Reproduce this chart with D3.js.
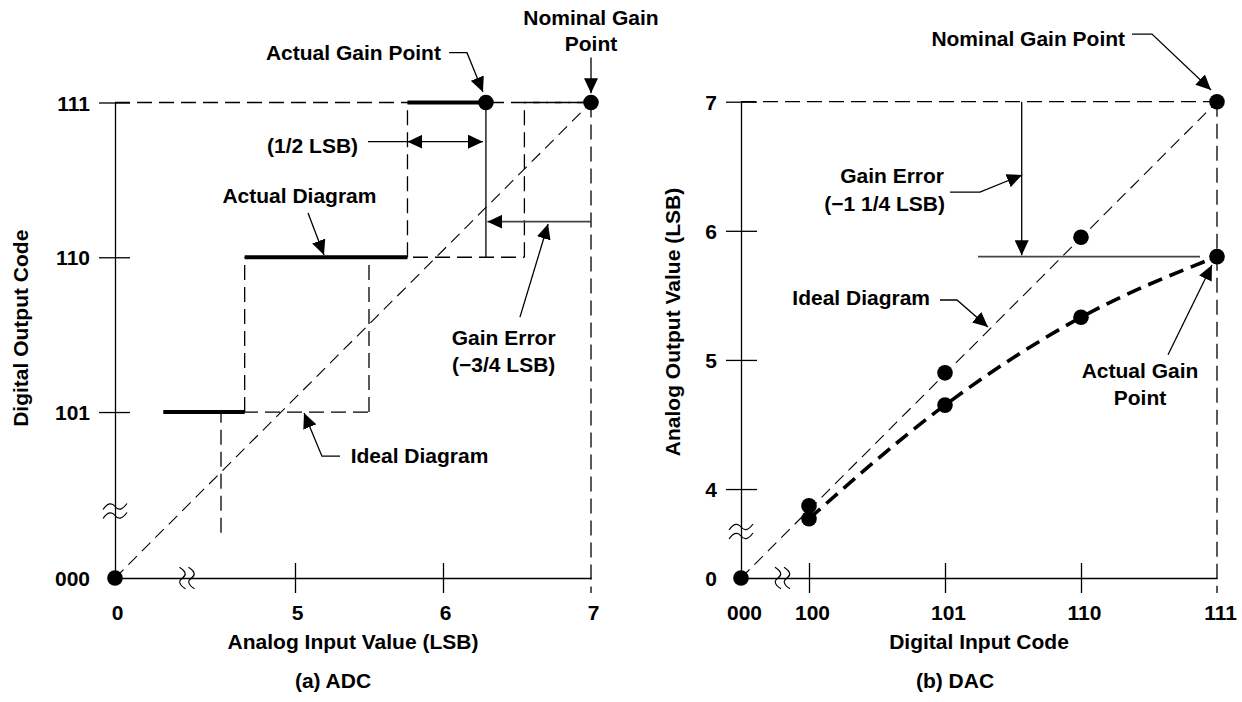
<!DOCTYPE html>
<html><head><meta charset="utf-8">
<script src="https://cdn.jsdelivr.net/npm/d3@7"></script>
<style>
body{margin:0;background:#fff}
svg{display:block}
text{font-family:"Liberation Sans",Arial,Helvetica,sans-serif;font-weight:bold;font-size:21px;fill:#000}
.axis path,.axis line{stroke:#000;stroke-width:1.3}
.grid{stroke:#000;stroke-width:1.3;stroke-dasharray:15 7;fill:none}
.diag{stroke:#000;stroke-width:1.1;stroke-dasharray:12 7;fill:none}
.thick{stroke:#000;stroke-width:4;fill:none}
.thickdash{stroke:#000;stroke-width:3.6;stroke-dasharray:15 8;fill:none}
.thin{stroke:#000;stroke-width:1.3;fill:none}
.gray{stroke:#444;stroke-width:1.6;fill:none}
.brk{stroke:#000;stroke-width:1.2;fill:none}
</style>
</head><body>
<svg id="c" width="1242" height="702"></svg>
<script>
// ---------- (a) ADC data ----------
const adcYCodes = ["000","101","110","111"];
const adcYValues = [0,5,6,7];
const adcXTicks = [0,5,6,7];
const adcActualCode = [5,6,7];
const adcActualStart = [4.11,4.66,5.76];
const adcActualEnd = [4.66,5.76,6.29];
const adcIdealCode = [5,6,7];
const adcIdealStart = [4.5,5.5,6.55];
const adcIdealEnd = [5.5,6.55,7];
const adcIdealFirstRiseFrom = 4.22;
const adcPointsX = [0,6.29,7];
const adcPointsY = [0,7,7];
const adcGainErrorLevel = 6.23;

// ---------- (b) DAC data ----------
const dacXCodes = ["000","100","101","110","111"];
const dacXValues = [0,4,5,6,7];
const dacYLabels = ["0","4","5","6","7"];
const dacYValues = [0,4,5,6,7];
const dacCodes = [4,5,6,7];
const dacIdeal = [3.87,4.90,5.95,7.00];
const dacActual = [3.77,4.65,5.33,5.80];

const svg = d3.select("#c");
const defs = svg.append("defs");
defs.append("marker").attr("id","ah").attr("viewBox","0 0 15 14")
  .attr("refX",15).attr("refY",7).attr("markerWidth",15).attr("markerHeight",14)
  .attr("markerUnits","userSpaceOnUse").attr("orient","auto-start-reverse")
  .append("path").attr("d","M0,0L15,7L0,14Z").attr("fill","#000");

// scales (broken axes -> piecewise linear)
const xA = d3.scaleLinear().domain([0,4,7]).range([115,147,591]);
const yA = d3.scaleLinear().domain([0,4,7]).range([578,566.8,102.5]);
const xD = d3.scaleLinear().domain([0,4,7]).range([741,809,1217]);
const yD = d3.scaleLinear().domain([0,3.5,7]).range([578,553.6,101.7]);

function path(g, sx, sy, pts, cls, arrowEnd, arrowStart){
  const p = g.append("path").attr("class",cls)
    .attr("d", d3.line().x(d=>sx(d[0])).y(d=>sy(d[1]))(pts));
  if(arrowEnd) p.attr("marker-end","url(#ah)");
  if(arrowStart) p.attr("marker-start","url(#ah)");
  return p;
}
function label(g, sx, sy, s, x, y, anchor){
  g.append("text").attr("x",sx(x)).attr("y",sy(y)).attr("text-anchor",anchor).text(s);
}
const tilde = "M-12,3C-7,-4 -3,-4 0,0S7,4 12,-3";
function breakY(g, x, y){
  [-4.5,4.5].forEach(o=>g.append("path").attr("class","brk").attr("d",tilde)
    .attr("transform",`translate(${x},${y+o})`));
}
function breakX(g, x, y){
  [-4.5,4.5].forEach(o=>g.append("path").attr("class","brk").attr("d",tilde)
    .attr("transform",`translate(${x+o},${y}) rotate(90) scale(0.9,1)`));
}

// =============== (a) ADC ===============
const gA = svg.append("g");
// reference dashed lines
path(gA, xA, yA, [[0,7],[7,7]], "grid");
gA.append("line").attr("class","grid").attr("x1",xA(7)).attr("x2",xA(7))
  .attr("y1",yA(7)).attr("y2",yA(0)+15);
// ideal steps
adcIdealCode.forEach((c,i)=>{
  path(gA, xA, yA, [[adcIdealStart[i],c],[adcIdealEnd[i],c]], "grid");
  const from = i===0 ? adcIdealFirstRiseFrom : adcIdealCode[i-1];
  path(gA, xA, yA, [[adcIdealStart[i],from],[adcIdealStart[i],c]], "grid");
});
// actual rises
adcActualCode.forEach((c,i)=>{
  if(i>0) path(gA, xA, yA, [[adcActualStart[i],adcActualCode[i-1]],[adcActualStart[i],c]], "grid");
});
// ideal diagonal
path(gA, xA, yA, [[0,0],[7,7]], "diag");

// axes
const yAxA = d3.axisLeft(yA).tickValues(adcYValues).tickFormat((d,i)=>adcYCodes[i])
  .tickSizeInner(16).tickSizeOuter(0);
const gyA = gA.append("g").attr("class","axis").attr("transform",`translate(${xA(0)},0)`).call(yAxA);
gyA.selectAll(".tick line").attr("x1",15).filter(d=>d===0).remove();
gyA.selectAll(".tick text").attr("x",-25).attr("dy","0.36em");
const xAxA = d3.axisBottom(xA).tickValues(adcXTicks).tickFormat(d3.format("d"))
  .tickSizeInner(15).tickSizeOuter(0);
const gxA = gA.append("g").attr("class","axis").attr("transform",`translate(0,${yA(0)})`).call(xAxA);
gxA.selectAll(".tick line").attr("y1",-15).filter(d=>d===0||d===7).remove();
gxA.selectAll(".tick text").attr("y",42).attr("dy",0).attr("dx",2);
breakY(gA, xA(0), yA(0)-67);
breakX(gA, xA(0)+72, yA(0));

// actual steps (thick)
adcActualCode.forEach((c,i)=>{
  path(gA, xA, yA, [[adcActualStart[i],c],[adcActualEnd[i],c]], "thick");
});
// actual gain vertical
path(gA, xA, yA, [[adcActualEnd[2],6],[adcActualEnd[2],7]], "thin");
// gain error arrow
path(gA, xA, yA, [[7,adcGainErrorLevel],[adcActualEnd[2]+0.01,adcGainErrorLevel]], "gray", true);
// 1/2 LSB
path(gA, xA, yA, [[5.493,6.747],[adcActualStart[2],6.747]], "thin");
path(gA, xA, yA, [[adcActualStart[2],6.747],[adcActualEnd[2]-0.02,6.747]], "thin", true, true);
// annotation arrows
path(gA, xA, yA, [[7,7.29],[7,7.06]], "thin", true);
path(gA, xA, yA, [[6.041,7.322],[6.162,7.322],[6.27,7.068]], "thin", true);
path(gA, xA, yA, [[5.088,6.286],[5.196,6.014]], "thin", true);
path(gA, xA, yA, [[6.52,5.613],[6.71,6.215]], "thin", true);
path(gA, xA, yA, [[5.304,4.715],[5.182,4.715],[5.061,4.993]], "thin", true);
// points
adcPointsX.forEach((x,i)=>gA.append("circle").attr("cx",xA(x)).attr("cy",yA(adcPointsY[i])).attr("r",7.8));
// texts
label(gA, xA, yA, "Nominal Gain", 7, 7.50, "middle");
label(gA, xA, yA, "Point", 7, 7.33, "middle");
label(gA, xA, yA, "Actual Gain Point", 5.986, 7.275, "end");
label(gA, xA, yA, "(1/2 LSB)", 5.426, 6.674, "end");
label(gA, xA, yA, "Actual Diagram", 5.03, 6.35, "middle");
label(gA, xA, yA, "Gain Error", 6.41, 5.432, "middle");
label(gA, xA, yA, "(\u22123/4 LSB)", 6.41, 5.258, "middle");
label(gA, xA, yA, "Ideal Diagram", 5.376, 4.67, "start");
gA.append("text").attr("x",(xA(0)+xA(7))/2).attr("y",649).attr("text-anchor","middle").text("Analog Input Value (LSB)");
gA.append("text").attr("x",333).attr("y",688).attr("text-anchor","middle").text("(a) ADC");
gA.append("text").attr("transform",`translate(28,${(yA(0)+yA(7))/2-12}) rotate(-90)`).attr("text-anchor","middle").text("Digital Output Code");

// =============== (b) DAC ===============
const gD = svg.append("g");
path(gD, xD, yD, [[0,7],[7,7]], "grid");
gD.append("line").attr("class","grid").attr("x1",xD(7)).attr("x2",xD(7))
  .attr("y1",yD(7)).attr("y2",yD(0)+15);
path(gD, xD, yD, [[0,0],[7,7]], "diag");

const yAxD = d3.axisLeft(yD).tickValues(dacYValues).tickFormat((d,i)=>dacYLabels[i])
  .tickSizeInner(15).tickSizeOuter(0);
const gyD = gD.append("g").attr("class","axis").attr("transform",`translate(${xD(0)},0)`).call(yAxD);
gyD.selectAll(".tick line").attr("x1",16).filter(d=>d===0).remove();
gyD.selectAll(".tick text").attr("x",-24).attr("dy","0.36em");
const xAxD = d3.axisBottom(xD).tickValues(dacXValues).tickFormat((d,i)=>dacXCodes[i])
  .tickSizeInner(15).tickSizeOuter(0);
const gxD = gD.append("g").attr("class","axis").attr("transform",`translate(0,${yD(0)})`).call(xAxD);
gxD.selectAll(".tick line").attr("y1",-15).filter(d=>d===0||d===7).remove();
gxD.selectAll(".tick text").attr("y",42).attr("dy",0).attr("dx",3);
breakY(gD, xD(0), yD(0)-46.5);
breakX(gD, xD(0)+41.5, yD(0));

// actual curve
gD.append("path").attr("class","thickdash")
  .attr("d", d3.line().curve(d3.curveMonotoneX).x((d,i)=>xD(dacCodes[i])).y(d=>yD(d))(dacActual));
// gain error
path(gD, xD, yD, [[5.243,dacActual[3]],[6.875,dacActual[3]]], "gray");
path(gD, xD, yD, [[5.564,7],[5.564,dacActual[3]+0.01]], "thin", true);
// annotation arrows
path(gD, xD, yD, [[6.375,7.524],[6.522,7.524],[6.956,7.091]], "thin", true);
path(gD, xD, yD, [[5.037,6.30],[5.257,6.30],[5.566,6.432]], "thin", true);
path(gD, xD, yD, [[4.963,5.464],[5.088,5.464],[5.316,5.255]], "thin", true);
path(gD, xD, yD, [[6.64,5.04],[6.963,5.735]], "thin", true);
// points
gD.append("circle").attr("cx",xD(0)).attr("cy",yD(0)).attr("r",7.8);
dacCodes.forEach((c,i)=>{
  gD.append("circle").attr("cx",xD(c)).attr("cy",yD(dacIdeal[i])).attr("r",7.8);
  gD.append("circle").attr("cx",xD(c)).attr("cy",yD(dacActual[i])).attr("r",7.8);
});
label(gD, xD, yD, "Nominal Gain Point", 6.324, 7.431, "end");
label(gD, xD, yD, "Gain Error", 4.993, 6.37, "end");
label(gD, xD, yD, "(\u22121 1/4 LSB)", 5.0, 6.153, "end");
label(gD, xD, yD, "Ideal Diagram", 4.89, 5.425, "end");
label(gD, xD, yD, "Actual Gain", 6.434, 4.86, "middle");
label(gD, xD, yD, "Point", 6.434, 4.65, "middle");
gD.append("text").attr("x",(xD(0)+xD(7))/2).attr("y",649).attr("text-anchor","middle").text("Digital Input Code");
gD.append("text").attr("x",955).attr("y",688).attr("text-anchor","middle").text("(b) DAC");
gD.append("text").attr("transform",`translate(680,322) rotate(-90)`).attr("text-anchor","middle").text("Analog Output Value (LSB)");
</script>
</body></html>
